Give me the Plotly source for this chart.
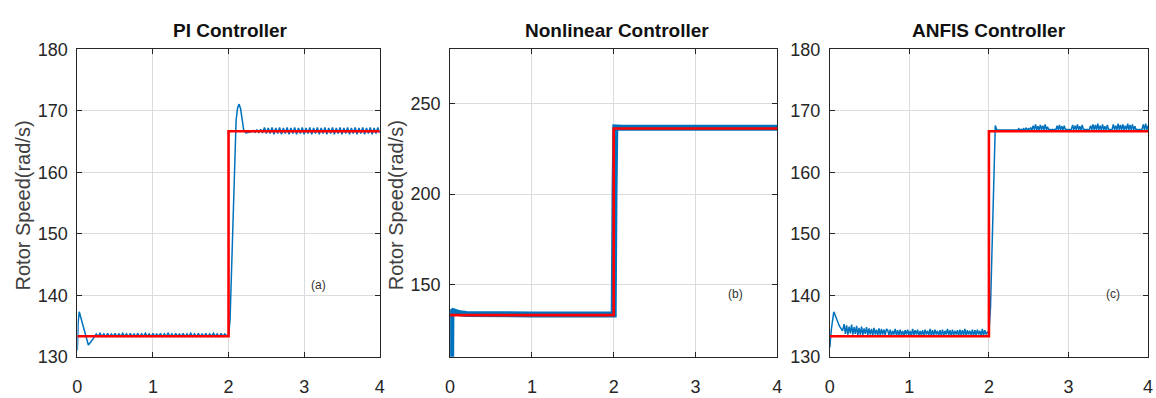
import numpy as np
import plotly.graph_objects as go

# ---------------- data ----------------
time_ticks = [0, 1, 2, 3, 4]

# reference speed command (rad/s)
ref_t = [0.0, 2.0, 2.0, 4.0]
pi_ref = [133.33, 133.33, 166.67, 166.67]
nl_ref = [133.0, 133.0, 236.2, 236.2]
anfis_ref = [133.33, 133.33, 166.67, 166.67]

# PI controller: start-up transient
pi_t_start = [0.0, 0.01, 0.025, 0.05, 0.09, 0.145, 0.19, 0.23]
pi_w_start = [131.0, 135.5, 137.3, 136.2, 134.0, 131.9, 132.6, 133.4]
# PI controller: ripple before the step
pi_low_span = (0.25, 1.975)
pi_w_low = [133.7, 133.3, 133.8, 133.3, 133.7, 133.2, 133.8, 133.3, 133.7, 133.3,
            133.8, 133.2, 133.7, 133.3, 133.8, 133.3, 133.7, 133.2, 133.8, 133.3,
            133.7, 133.3, 133.8, 133.2, 133.7, 133.3, 133.8, 133.3, 133.7, 133.2,
            133.8, 133.3, 133.7, 133.3, 133.8, 133.2, 133.7, 133.3, 133.8, 133.3,
            133.7, 133.2, 133.8, 133.3, 133.7, 133.3, 133.8, 133.2, 133.7, 133.3,
            133.8, 133.3, 133.7, 133.2, 133.8, 133.3, 133.7, 133.3, 133.8, 133.2,
            133.7, 133.3, 133.8, 133.3, 133.7, 133.2, 133.8, 133.3, 133.7, 133.4]
# PI controller: step response at t = 2 s
pi_t_step = [2.0, 2.02, 2.04, 2.06, 2.08, 2.10, 2.12, 2.14, 2.16, 2.18, 2.20, 2.23, 2.27]
pi_w_step = [133.5, 136.0, 144.0, 155.0, 164.0, 168.5, 170.5, 171.1, 170.3, 168.3,
             166.9, 166.4, 166.5]
# PI controller: ripple after the step
pi_high_span = (2.3, 4.0)
pi_w_high = [166.6, 166.8, 166.5, 166.9, 166.5, 167.0, 166.4, 167.3, 166.3, 167.2,
             166.3, 167.3, 166.2, 167.2, 166.3, 167.3, 166.2, 167.2, 166.3, 167.3,
             166.2, 167.2, 166.3, 167.3, 166.2, 167.2, 166.3, 167.3, 166.2, 167.2,
             166.3, 167.3, 166.2, 167.2, 166.3, 167.3, 166.2, 167.2, 166.3, 167.3,
             166.2, 167.2, 166.3, 167.3, 166.2, 167.2, 166.3, 167.3, 166.2, 167.2,
             166.3, 167.3, 166.2, 167.2, 166.3, 167.3, 166.2, 167.2, 166.3, 167.3,
             166.2, 167.2, 166.3, 167.3, 166.2, 167.2, 166.3, 167.3, 166.4]

# Nonlinear controller response
nl_t = [0.012, 0.016, 0.035, 0.07, 0.12, 0.2, 0.4, 1.0, 1.5, 2.0, 2.01, 2.02, 2.1, 3.0, 4.0]
nl_w = [100.0, 134.6, 135.2, 134.6, 134.0, 133.6, 133.4, 133.3, 133.3, 133.3, 200.0,
        236.8, 236.6, 236.6, 236.6]

# ANFIS controller: start-up transient
anfis_t_start = [0.0, 0.02, 0.05, 0.08, 0.12, 0.16]
anfis_w_start = [131.5, 134.5, 137.3, 136.2, 135.0, 134.2]
# ANFIS controller: chattering before the step
anfis_low_span = (0.18, 1.98)
anfis_w_low = [135.3, 133.7, 135.1, 133.6, 134.9, 133.8, 135.2, 133.6, 134.8, 133.7,
               135.0, 133.5, 134.7, 133.6, 134.9, 133.5, 134.6, 133.7, 134.8, 133.5,
               134.6, 133.6, 134.5, 133.5, 134.7, 133.6, 134.4, 133.5, 134.6, 133.5,
               134.5, 133.6, 134.4, 133.5, 134.5,
               134.3, 133.5, 134.4, 133.4, 134.2, 133.6, 134.5, 133.5, 134.3, 133.4,
               134.4, 133.5, 134.2, 133.4, 134.3, 133.6, 134.4, 133.5, 134.2, 133.4,
               134.5, 133.5, 134.3, 133.6, 134.4, 133.4, 134.2, 133.5, 134.3, 133.4,
               134.4, 133.6, 134.2, 133.5, 134.5, 133.4, 134.3, 133.5, 134.4, 133.6,
               134.2, 133.4, 134.3, 133.5, 134.4, 133.4, 134.2, 133.6, 134.5, 133.5,
               134.3, 133.4, 134.4, 133.5, 134.2, 133.6, 134.3, 133.4, 134.4, 133.5,
               134.3, 133.5, 134.5, 133.4, 134.3, 133.6, 134.2, 133.5, 134.4, 133.4,
               134.3, 133.5, 134.4, 133.6, 134.2, 133.4, 134.5, 133.5, 134.3, 133.6,
               134.0]
# ANFIS controller: step response at t = 2 s
anfis_t_step = [2.0, 2.02, 2.04, 2.06, 2.08, 2.10]
anfis_w_step = [133.8, 138.0, 148.0, 160.0, 167.6, 166.9]
# ANFIS controller: chattering after the step
anfis_high_span = (2.12, 4.0)
anfis_w_high = [166.9, 167.0, 166.9, 167.0, 166.9, 166.95, 166.9, 167.0, 166.9, 167.0,
                166.9, 167.0, 166.9, 167.0, 166.9, 167.0, 166.9, 167.1, 166.9, 167.0,
                166.9, 167.1, 166.9, 167.2, 166.9, 167.1, 166.9, 167.3, 166.9,
                167.6, 166.9, 167.8, 166.9, 167.5, 166.9, 167.7, 166.9, 167.6, 166.9,
                167.8, 166.9, 167.4,
                166.9, 167.0, 166.9, 167.0, 166.9, 167.0, 166.9,
                167.6, 166.9, 167.7, 166.9, 167.5, 166.9, 167.6, 166.9,
                167.0, 166.9, 167.0, 166.9, 167.0,
                167.7, 166.9, 167.6, 166.9, 167.8, 166.9, 167.5, 166.9, 167.7, 166.9,
                167.0, 166.9, 167.0, 166.9, 167.0,
                167.6, 166.9, 167.8, 166.9, 167.7, 166.9, 167.9, 166.9, 167.6, 166.9,
                167.8, 166.9, 167.5, 166.9, 167.7,
                166.9, 167.0, 166.9, 167.0,
                167.8, 166.9, 167.6, 166.9, 167.9, 166.9, 167.7, 166.9, 167.8, 166.9,
                167.6, 166.9, 167.9, 166.9, 167.7, 166.9, 167.8, 166.9, 167.5, 166.9,
                167.0, 166.9, 167.0, 166.9, 167.0,
                167.8, 166.9, 167.9, 166.9, 167.6]


def segment(span, values):
    """Sample times for a uniformly logged block of values."""
    return list(np.linspace(span[0], span[1], len(values)))


pi_t = pi_t_start + segment(pi_low_span, pi_w_low) + pi_t_step + segment(pi_high_span, pi_w_high)
pi_w = pi_w_start + pi_w_low + pi_w_step + pi_w_high

anfis_t = (anfis_t_start + segment(anfis_low_span, anfis_w_low) + anfis_t_step
           + segment(anfis_high_span, anfis_w_high))
anfis_w = anfis_w_start + anfis_w_low + anfis_w_step + anfis_w_high

# ---------------- figure ----------------
BLUE = "#0072BD"
RED = "#FF0000"
FONT = "Liberation Sans, Arial, sans-serif"

fig = go.Figure()

panels = [
    ("x", "y", pi_t, pi_w, pi_ref, 1.5),
    ("x2", "y2", nl_t, nl_w, nl_ref, 6),
    ("x3", "y3", anfis_t, anfis_w, anfis_ref, 1.5),
]
for xa, ya, t, w, ref, bw in panels:
    fig.add_trace(go.Scatter(x=t, y=w, mode="lines", xaxis=xa, yaxis=ya,
                             line=dict(color=BLUE, width=bw), showlegend=False))
    fig.add_trace(go.Scatter(x=ref_t, y=ref, mode="lines", xaxis=xa, yaxis=ya,
                             line=dict(color=RED, width=2.6), showlegend=False))

W, H = 1156, 398
y_dom = [1 - 365 / H, 1 - 41.5 / H]
x_doms = [[73 / W, 378 / W], [449 / W, 779 / W], [832 / W, 1153 / W]]
y_ranges = [[130, 180], [110, 280], [130, 180]]
y_ticks = [[130, 140, 150, 160, 170, 180], [150, 200, 250], [130, 140, 150, 160, 170, 180]]

axis_common = dict(
    showline=True, linecolor="#262626", linewidth=1, mirror="ticks",
    ticks="inside", ticklen=5, tickcolor="#262626",
    showgrid=True, gridcolor="#dcdcdc", gridwidth=1, zeroline=False,
    tickfont=dict(family=FONT, size=18, color="#262626"),
)

layout_axes = {}
for i in range(3):
    sfx = "" if i == 0 else str(i + 1)
    layout_axes["xaxis" + sfx] = dict(
        axis_common, domain=x_doms[i], range=[0, 4], tickvals=time_ticks,
        anchor="y" + sfx, ticklabelstandoff=14)
    layout_axes["yaxis" + sfx] = dict(
        axis_common, domain=y_dom, range=y_ranges[i], tickvals=y_ticks[i],
        anchor="x" + sfx, ticklabelstandoff=5)

titles = [("PI Controller", 227), ("Nonlinear Controller", 617), ("ANFIS Controller", 993)]
annotations = []
for text, xc in titles:
    annotations.append(dict(
        text="<b>" + text + "</b>", x=xc / W, y=1 - 22 / H, xref="paper", yref="paper",
        showarrow=False, xanchor="center", yanchor="middle",
        font=dict(family=FONT, size=19, color="#111111")))

for xc in (18, 394):
    annotations.append(dict(
        text="Rotor Speed(rad/s)", x=xc / W, y=1 - 206 / H, xref="paper", yref="paper",
        showarrow=False, textangle=-90, xanchor="center", yanchor="middle",
        font=dict(family=FONT, size=20, color="#404040")))

panel_tags = [("(a)", "x", "y", 3.19, 141.6), ("(b)", "x2", "y2", 3.49, 144.7),
              ("(c)", "x3", "y3", 3.56, 140.2)]
for tag, xa, ya, tx, ty in panel_tags:
    annotations.append(dict(
        text=tag, x=tx, y=ty, xref=xa, yref=ya, showarrow=False,
        font=dict(family=FONT, size=12, color="#333333")))

fig.update_layout(
    width=W, height=H, margin=dict(l=0, r=0, t=0, b=0),
    paper_bgcolor="white", plot_bgcolor="white",
    annotations=annotations, **layout_axes,
)

fig.write_html("out.html")
